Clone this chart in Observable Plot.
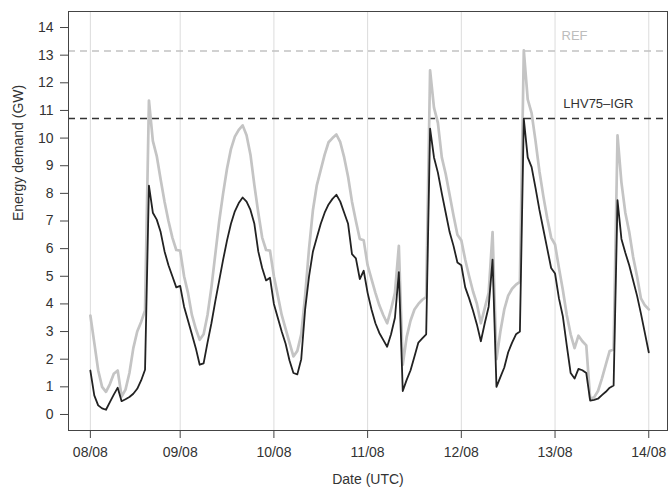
<!DOCTYPE html>
<html>
<head>
<meta charset="utf-8">
<script src="https://cdn.jsdelivr.net/npm/d3@7"></script>
<script src="https://cdn.jsdelivr.net/npm/@observablehq/plot@0.6"></script>
<style>
  html, body { margin: 0; padding: 0; background: #fff; }
  #chart svg { display: block; }
</style>
</head>
<body>
<div id="chart"></div>
<script>
// Hourly series, hour 1..144 after 08/08 00:00 UTC (values in GW)
const hours = d3.range(1, 145);

const refGW = [
  3.58, 2.6, 1.6, 1.0, 0.82, 1.1, 1.47, 1.59, 0.65, 0.9,
  1.5, 2.4, 3.0, 3.35, 3.76, 11.36, 9.9, 9.35, 8.5, 7.7,
  7.0, 6.4, 5.95, 5.93, 5.0, 4.4, 3.6, 3.1, 2.7, 2.9,
  3.6, 4.6, 5.8, 7.0, 8.0, 8.9, 9.6, 10.05, 10.3, 10.46,
  10.1, 9.4, 8.3, 7.3, 6.4, 5.95, 5.93, 5.0, 4.3, 3.6,
  3.1, 2.6, 2.1, 2.3, 2.9, 4.3, 6.0, 7.4, 8.3, 8.85,
  9.4, 9.85, 10.0, 10.13, 9.85, 9.3, 8.6, 7.7, 7.0, 6.35,
  6.3, 5.4, 4.9, 4.4, 3.95, 3.6, 3.3, 3.8, 4.4, 6.1,
  1.8, 2.8, 3.4, 3.8, 4.0, 4.15, 4.25, 12.45, 11.1, 10.55,
  9.3, 8.7, 7.95, 7.2, 6.5, 6.3, 5.6, 5.0, 4.45, 4.0,
  3.3, 3.85, 4.4, 6.6, 2.0, 3.0, 3.8, 4.3, 4.55, 4.7,
  4.8, 13.17, 11.4, 10.9, 9.9, 8.8, 7.9, 7.1, 6.4, 6.15,
  5.3, 4.5, 3.6, 2.9, 2.4, 2.85, 2.65, 2.5, 0.57, 0.62,
  0.85, 1.3, 1.8, 2.3, 2.35, 10.1, 8.4, 7.3, 6.6, 5.7,
  5.0, 4.2, 3.95, 3.8
];

const lhvGW = [
  1.59, 0.69, 0.33, 0.22, 0.17, 0.45, 0.72, 0.97, 0.48, 0.55,
  0.63, 0.75, 0.93, 1.23, 1.62, 8.28, 7.3, 7.05, 6.6, 5.9,
  5.4, 5.0, 4.6, 4.65, 3.9, 3.4, 2.9, 2.4, 1.8, 1.85,
  2.6, 3.3, 4.1, 4.85, 5.6, 6.3, 6.9, 7.35, 7.65, 7.85,
  7.7, 7.4, 6.9, 5.9, 5.3, 4.85, 4.95, 4.0, 3.5, 3.0,
  2.56, 1.95, 1.5, 1.45, 2.0, 3.8, 5.0, 5.9, 6.4, 6.9,
  7.3, 7.6, 7.8, 7.95, 7.7, 7.3, 6.9, 5.8, 5.65, 4.9,
  5.2, 4.4, 3.8, 3.3, 2.95, 2.7, 2.45, 2.9, 3.5, 5.15,
  0.85, 1.25, 1.6, 2.1, 2.6, 2.75, 2.9, 10.34, 9.3, 8.75,
  8.0, 7.3, 6.6, 6.1, 5.5, 5.4, 4.6, 4.2, 3.75, 3.25,
  2.65, 3.3, 3.9, 5.6, 1.0, 1.35, 1.7, 2.25, 2.6, 2.9,
  3.0, 10.7, 9.3, 8.95, 8.2, 7.4, 6.7, 6.0, 5.3, 5.1,
  4.2, 3.55, 2.5, 1.5, 1.3, 1.65, 1.6, 1.5, 0.5, 0.53,
  0.57, 0.7, 0.82, 0.97, 1.05, 7.75, 6.35, 5.85, 5.4, 4.85,
  4.3, 3.65, 2.95, 2.25
];

// Reference levels (dashed lines) and their labels
const levelNames = ["REF", "LHV75\u2013IGR"];
const levelValues = [13.15, 10.71];

// Axis ticks
const yTicks = [0, 1, 2, 3, 4, 5, 6, 7, 8, 9, 10, 11, 12, 13, 14];
const xTickStrings = ["2016-08-08T01:00Z", "2016-08-09T00:00Z", "2016-08-10T00:00Z",
  "2016-08-11T00:00Z", "2016-08-12T00:00Z", "2016-08-13T00:00Z", "2016-08-14T00:00Z"];
const xTicks = xTickStrings.map(s => new Date(s));

const t0 = Date.UTC(2016, 7, 8);
const H = 3600e3;
const rows = hours.map((h, i) => ({ date: new Date(t0 + h * H), ref: refGW[i], lhv: lhvGW[i] }));

const font = "'Liberation Sans', Arial, Helvetica, sans-serif";

const chart = Plot.plot({
  width: 668,
  height: 488,
  marginLeft: 68,
  marginTop: 11,
  marginRight: 1,
  marginBottom: 58,
  style: { fontFamily: font, fontSize: "14px", color: "#333", background: "#fff" },
  x: { type: "utc", domain: [new Date(t0 - 4.6 * H), new Date(t0 + 148.8 * H)] },
  y: { domain: [-0.58, 14.58] },
  marks: [
    Plot.ruleX(xTicks, { stroke: "#dcdcdc", strokeWidth: 1 }),
    Plot.ruleY([levelValues[0]], { stroke: "#c2c2c2", strokeWidth: 1.6, strokeDasharray: "7,5" }),
    Plot.ruleY([levelValues[1]], { stroke: "#333", strokeWidth: 1.6, strokeDasharray: "7,5" }),
    Plot.lineY(rows, { x: "date", y: "ref", stroke: "#c4c4c4", strokeWidth: 2.7 }),
    Plot.lineY(rows, { x: "date", y: "lhv", stroke: "#222", strokeWidth: 1.8 }),
    Plot.text([{ d: new Date(t0 + 125 * H), v: levelValues[0], t: levelNames[0] }],
      { x: "d", y: "v", text: "t", dy: -15, fill: "#bdbdbd", fontSize: 13 }),
    Plot.text([{ d: new Date(t0 + 131.1 * H), v: levelValues[1], t: levelNames[1] }],
      { x: "d", y: "v", text: "t", dy: -15, fill: "#333", fontSize: 13 }),
    Plot.frame({ stroke: "#444", strokeWidth: 1 }),
    Plot.axisY({ ticks: yTicks, tickSize: 8, tickPadding: 7, label: null, stroke: "#444", fill: "#333" }),
    Plot.axisX({ ticks: xTicks, tickFormat: d3.utcFormat("%d/%m"), tickSize: 8, tickPadding: 9, label: null, stroke: "#444", fill: "#333" }),
    Plot.text(["Energy demand (GW)"], { frameAnchor: "left", dx: -50, rotate: -90, fill: "#333", fontSize: 14 }),
    Plot.text(["Date (UTC)"], { frameAnchor: "bottom", dy: 53, fill: "#333", fontSize: 14 })
  ]
});

document.getElementById("chart").appendChild(chart);
</script>
</body>
</html>
